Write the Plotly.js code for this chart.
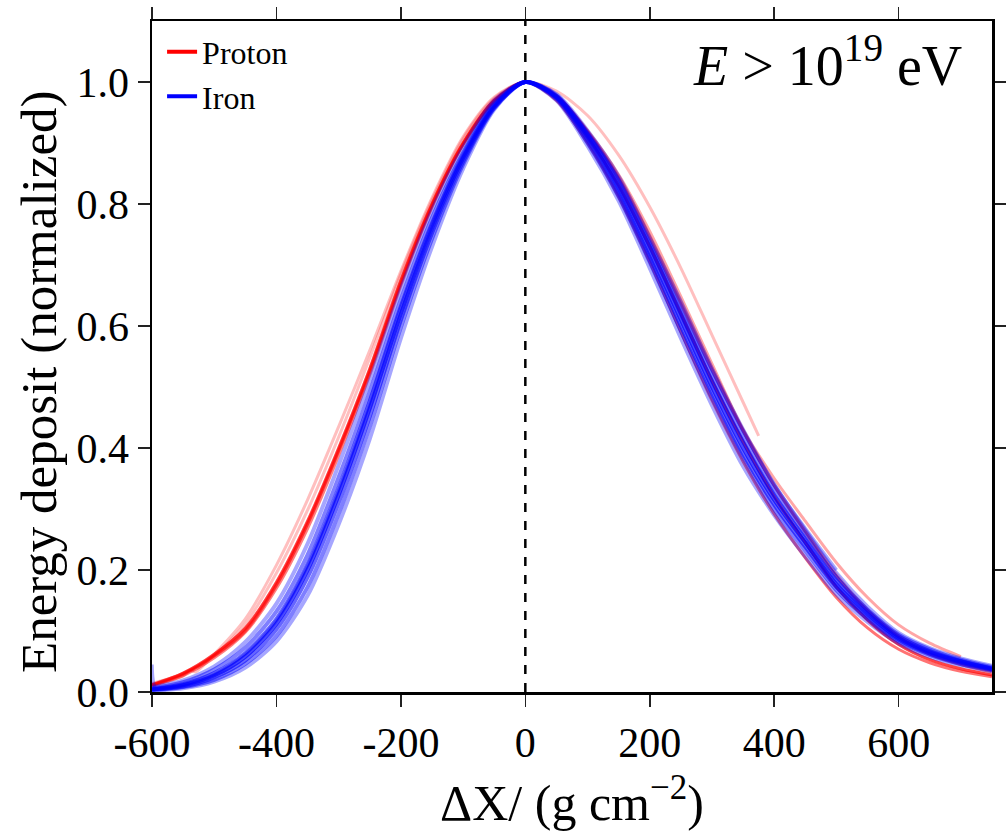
<!DOCTYPE html>
<html><head><meta charset="utf-8">
<script src="https://cdn.plot.ly/plotly-3.0.1.min.js"></script>
<style>html,body{margin:0;padding:0;background:#fff}</style>
</head><body><div id="chart" style="width:1006px;height:832px"></div>
<script>
// Common depth grid (g cm^-2 relative to Xmax)
const XS = [-600,-550,-500,-450,-400,-350,-300,-250,-200,-150,-100,-50,0,50,100,150,200,250,300,350,400,450,500,550,600,650,700,750];

// Iron profiles (normalized energy deposit)
const ironA = [0.004,0.011,0.027,0.058,0.112,0.2,0.323,0.465,0.62,0.76,0.875,0.96,1.0,0.975,0.91,0.825,0.72,0.61,0.50,0.40,0.315,0.245,0.177,0.128,0.088,0.065,0.05,0.038];
const ironB = [0.002,0.006,0.017,0.04,0.083,0.158,0.275,0.415,0.58,0.73,0.858,0.955,1.0,0.97,0.895,0.805,0.695,0.58,0.47,0.37,0.29,0.222,0.16,0.115,0.08,0.058,0.044,0.034];
const ironC = [0.008,0.019,0.042,0.082,0.145,0.243,0.372,0.51,0.66,0.79,0.893,0.97,1.0,0.98,0.92,0.845,0.745,0.64,0.53,0.43,0.34,0.265,0.195,0.14,0.097,0.072,0.055,0.043];
const ironD = [0.003,0.008,0.02,0.046,0.092,0.172,0.292,0.435,0.598,0.743,0.865,0.957,1.0,0.978,0.915,0.838,0.735,0.625,0.518,0.418,0.33,0.257,0.188,0.135,0.094,0.07,0.053,0.041];
const ironE = [0.006,0.016,0.037,0.073,0.132,0.225,0.352,0.492,0.643,0.777,0.884,0.966,1.0,0.972,0.9,0.812,0.705,0.592,0.483,0.383,0.3,0.232,0.167,0.12,0.083,0.061,0.046,0.036];
const ironG = [0.005,0.013,0.031,0.064,0.12,0.21,0.335,0.477,0.632,0.768,0.88,0.962,1.0,0.974,0.905,0.818,0.712,0.6,0.49,0.39,0.307,0.238,0.172,0.124,0.086,0.063,0.048,0.037];
const ironH = [0.004,0.009,0.024,0.052,0.103,0.188,0.31,0.452,0.61,0.752,0.87,0.958,1.0,0.976,0.914,0.832,0.73,0.62,0.51,0.41,0.323,0.251,0.183,0.132,0.091,0.067,0.051,0.039];
// iron profile with a spike at the first bin, truncated at 500
const ironF_x = [-600,-593,-550,-500,-450,-400,-350,-300,-250,-200,-150,-100,-50,0,50,100,150,200,250,300,350,400,450,500];
const ironF   = [0.045,0.005,0.012,0.029,0.062,0.117,0.207,0.33,0.472,0.628,0.765,0.878,0.961,1.0,0.978,0.918,0.84,0.74,0.634,0.527,0.428,0.34,0.268,0.2];

// Proton profiles
const protA = [0.012,0.031,0.062,0.105,0.18,0.28,0.4,0.53,0.675,0.8,0.9,0.97,1.0,0.975,0.91,0.83,0.73,0.62,0.51,0.41,0.32,0.245,0.172,0.118,0.078,0.053,0.038,0.028];
const protB = [0.01,0.027,0.056,0.098,0.17,0.268,0.388,0.52,0.667,0.795,0.897,0.968,1.0,0.977,0.918,0.842,0.745,0.637,0.528,0.428,0.338,0.262,0.19,0.133,0.09,0.062,0.045,0.033];
const protC = [0.011,0.029,0.059,0.1,0.175,0.275,0.395,0.525,0.67,0.797,0.898,0.969,1.0,0.97,0.9,0.812,0.705,0.59,0.478,0.378,0.292,0.22,0.155,0.105,0.07,0.048,0.034,0.025];
const protD_x = [-600,-550,-538,-530,-500,-450,-400,-350,-300,-250,-200,-150,-100,-50,0,50,100,150,200,250,300,350,400,450,500,550,600,650,700,750];
const protD   = [0.012,0.026,0.036,0.033,0.062,0.12,0.208,0.315,0.435,0.56,0.69,0.81,0.91,0.975,1.0,0.978,0.92,0.845,0.748,0.64,0.532,0.43,0.34,0.265,0.193,0.135,0.093,0.066,0.048,0.036];
const protE = [0.014,0.03,0.06,0.112,0.195,0.298,0.418,0.548,0.685,0.806,0.907,0.973,1.0,0.975,0.91,0.83,0.73,0.62,0.51,0.41,0.32,0.245,0.172,0.118,0.078,0.053,0.038,0.028];
// truncated at 375, wider on the falling side
const protF_x = [-600,-550,-500,-450,-400,-350,-300,-250,-200,-150,-100,-50,0,50,100,150,200,250,300,350,375];
const protF   = [0.012,0.031,0.062,0.105,0.18,0.28,0.4,0.53,0.675,0.8,0.9,0.97,1.0,0.985,0.945,0.88,0.795,0.695,0.585,0.475,0.42];
// truncated at 700, wide tail
const protG_x = XS.slice(0, 27);
const protG   = [0.011,0.03,0.06,0.103,0.177,0.277,0.397,0.527,0.672,0.798,0.899,0.969,1.0,0.978,0.92,0.848,0.755,0.648,0.538,0.43,0.35,0.28,0.212,0.155,0.11,0.08,0.058];

// Axis ticks
const xTickVals = [-600,-400,-200,0,200,400,600];
const xTickText = ['-600','-400','-200','0','200','400','600'];
const yTickVals = [0.0,0.2,0.4,0.6,0.8,1.0];
const yTickText = ['0.0','0.2','0.4','0.6','0.8','1.0'];

const FONT = 'Liberation Serif, Times New Roman, serif';

function curve(x, y, color, opacity, width) {
  return {x: x, y: y, type: 'scatter', mode: 'lines', showlegend: false, hoverinfo: 'skip',
          opacity: opacity, line: {color: color, width: width, shape: 'spline', smoothing: 0.8}};
}

const RED = '#ff0000', BLUE = '#0000ff';
const traces = [
  curve(protD_x, protD, RED, 0.25, 3),
  curve(XS, protE, RED, 0.25, 3),
  curve(protF_x, protF, RED, 0.25, 3),
  curve(protG_x, protG, RED, 0.35, 3),
  curve(XS, protA, RED, 0.65, 3),
  curve(XS, protB, RED, 0.5, 3),
  curve(XS, protC, RED, 0.55, 3),
  curve(XS, ironC, BLUE, 0.35, 4),
  curve(XS, ironB, BLUE, 0.35, 4),
  curve(XS, ironE, BLUE, 0.5, 4),
  curve(XS, ironD, BLUE, 0.5, 4),
  curve(ironF_x, ironF, BLUE, 0.35, 3.5),
  curve(XS, ironG, BLUE, 0.6, 4),
  curve(XS, ironH, BLUE, 0.6, 4),
  curve(XS, ironA, BLUE, 0.7, 4),
  {x: [null], y: [null], type: 'scatter', mode: 'lines', name: 'Proton', legendgroup: 'p',
   line: {color: RED, width: 4}},
  {x: [null], y: [null], type: 'scatter', mode: 'lines', name: 'Iron', legendgroup: 'i',
   line: {color: BLUE, width: 4}}
];

const axisCommon = {
  showgrid: false, zeroline: false, showline: true, linecolor: '#000', linewidth: 2.5,
  mirror: 'ticks', ticks: 'outside', ticklen: 12, tickwidth: 1.5, tickcolor: '#222',
  tickfont: {family: FONT, size: 42, color: '#000'}
};

const layout = {
  width: 1006, height: 832,
  margin: {l: 152, r: 14, t: 21, b: 140},
  paper_bgcolor: '#fff', plot_bgcolor: '#fff',
  font: {family: FONT, color: '#000'},
  xaxis: Object.assign({}, axisCommon, {
    range: [-600, 750], tickmode: 'array', tickvals: xTickVals, ticktext: xTickText,
    title: {text: 'ΔX/ (g cm<sup>−2</sup>)', font: {family: FONT, size: 50}, standoff: 20}
  }),
  yaxis: Object.assign({}, axisCommon, {
    range: [0, 1.1], tickmode: 'array', tickvals: yTickVals, ticktext: yTickText
  }),
  legend: {x: 0.012, y: 0.995, xanchor: 'left', yanchor: 'top', bgcolor: 'rgba(0,0,0,0)',
           font: {family: FONT, size: 32}, traceorder: 'grouped', tracegroupgap: 0},
  shapes: [{type: 'line', xref: 'x', yref: 'paper', x0: 0, x1: 0, y0: 0, y1: 1, layer: 'above',
            line: {color: '#000', width: 2.5, dash: 'dash'}}],
  annotations: [
    {xref: 'paper', yref: 'paper', x: 0.967, y: 0.94, xanchor: 'right', yanchor: 'middle',
     showarrow: false, text: '<i>E</i> > 10<sup>19</sup> eV',
     font: {family: FONT, size: 56, color: '#000'}},
    {xref: 'paper', yref: 'paper', x: -0.1345, y: 0.462, xanchor: 'center', yanchor: 'middle',
     showarrow: false, textangle: -90, text: 'Energy deposit (normalized)',
     font: {family: FONT, size: 51, color: '#000'}}
  ]
};

Plotly.newPlot('chart', traces, layout, {displayModeBar: false, staticPlot: true});
</script></body></html>
